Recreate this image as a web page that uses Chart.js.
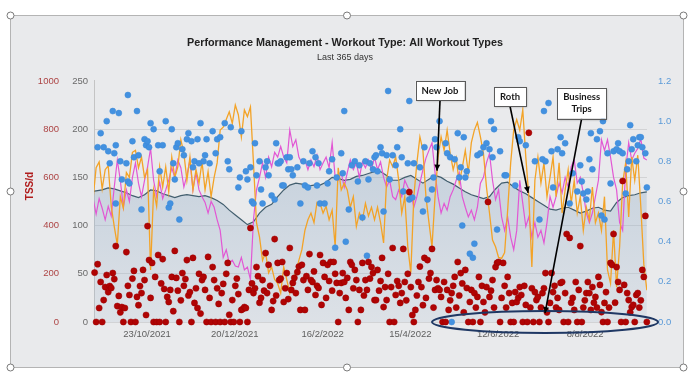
<!DOCTYPE html>
<html>
<head>
<meta charset="utf-8">
<script src="https://cdn.jsdelivr.net/npm/chart.js@4.4.1/dist/chart.umd.min.js"></script>
<style>
  html, body { margin: 0; padding: 0; background: #fff; }
  canvas { display: block; }
</style>
</head>
<body>
<canvas id="grafico" width="690" height="374"></canvas>
<script>
// x axis: day index (0 = mid Sept 2021), ticks at these days
var tickDays = [37.7, 95.7, 153.7, 211.7, 269.7, 327.2];
var tickLabels = ['23/10/2021', '20/12/2021', '16/2/2022', '15/4/2022', '12/6/2022', '8/8/2022'];
var firstDay = 2.6, lastDay = 368.1;

// fitness (grey area), one value every 4 days
var fitnessStep = 4;
var fitness = [135,136,137,139,138,136,134,131,129,132,
  137,136,133,131,129,131,132,131,130,131,
  129,126,122,116,111,106,101,104,113,119,
  122,130,137,142,144,143,141,142,142,145,
  150,149,147,148,151,152,154,156,156,152,
  147,147,150,152,148,144,148,152,150,146,
  143,139,135,132,130,128,130,138,144,145,
  140,136,133,129,125,121,117,116,118,119,
  116,113,115,118,119,116,115,124,129,131,
  132,134,135];

// orange and pink lines, one value every 2 days
var lineStep = 2;
var fatigue = [150,128,160,166,138,158,162,120,99,80,
  130,118,155,150,176,178,160,171,150,158,
  54,137,120,161,140,161,135,171,150,161,
  189,175,147,171,137,158,144,166,137,156,
  130,150,165,199,202,210,218,206,225,215,
  192,220,213,223,165,103,88,64,72,51,
  57,44,40,30,57,44,30,44,51,64,
  75,95,106,113,103,124,123,113,120,106,
  116,78,160,137,144,137,119,130,99,113,
  106,123,110,119,106,119,103,82,147,168,
  161,171,147,113,130,78,51,130,165,192,
  178,130,103,78,130,171,192,178,199,175,
  158,170,144,160,178,155,186,199,207,192,
  175,140,113,85,78,67,66,72,116,165,
  199,210,199,220,171,130,57,147,171,144,
  165,130,150,171,130,165,113,137,158,123,
  147,113,130,95,119,106,140,103,113,95,
  130,54,40,95,36,78,144,165,109,171,
  147,173,120,60,33];

var form = [115,128,112,128,118,106,120,110,140,168,
  147,119,137,125,150,165,144,130,147,161,
  180,147,130,145,128,137,147,160,150,168,
  160,140,152,168,137,155,137,130,124,113,
  125,119,106,95,67,75,61,64,58,57,
  67,54,57,44,106,137,150,165,150,171,
  161,176,171,182,171,165,199,182,189,171,
  165,168,158,168,161,173,158,165,171,160,
  186,150,147,155,140,155,168,158,165,150,
  166,160,168,158,171,158,166,150,140,147,
  130,127,137,130,147,140,134,119,130,144,
  158,170,178,186,155,130,113,123,116,130,
  137,147,155,130,119,109,116,106,119,144,
  150,165,175,147,127,137,109,95,109,88,
  75,95,147,123,99,109,88,103,88,95,
  82,103,130,119,130,144,134,150,140,161,
  168,144,150,134,113,103,113,130,147,189,
  178,189,171,150,137,103,95,158,186,168,
  175,180,190,170,168];

// TSS/d, one per day
var tssDaily = [null,null,null,205,0,240,58,166,0,91,
  145,195,124,149,141,203,178,315,66,108,
  40,62,0,58,290,150,112,0,180,212,
  0,104,70,149,120,216,174,29,398,257,
  100,245,0,187,0,278,0,160,261,137,
  0,104,83,133,187,45,295,183,130,0,
  90,203,150,178,257,110,124,0,266,79,
  140,58,200,35,174,187,133,0,270,100,
  0,228,174,0,140,75,0,120,158,0,
  200,245,30,0,91,0,150,180,116,0,
  50,54,62,58,0,133,390,160,120,140,
  228,190,80,100,174,130,286,120,237,150,
  50,87,344,110,245,174,180,249,83,140,
  203,95,307,133,162,183,120,207,230,50,
  237,174,50,190,133,282,174,166,210,112,
  150,141,278,71,245,187,100,237,170,249,
  130,249,200,162,0,120,162,203,166,100,
  183,50,249,237,140,216,174,0,133,50,
  245,110,174,133,249,180,228,203,91,91,
  216,130,170,266,62,145,91,200,0,145,
  307,0,112,170,150,79,120,303,166,90,
  200,539,145,29,0,50,110,166,230,145,
  70,266,100,257,180,203,303,60,133,174,
  140,133,104,0,166,0,133,50,90,120,
  150,187,60,249,110,203,160,40,216,141,
  0,83,133,0,120,60,104,187,0,150,
  83,40,145,498,104,130,174,60,228,245,
  249,0,100,245,150,60,187,120,0,79,
  0,124,83,100,145,112,0,150,71,0,
  785,60,140,0,124,91,104,0,60,120,
  140,203,40,0,79,203,124,150,60,100,
  50,162,166,0,120,365,0,349,80,100,
  50,166,0,133,315,0,60,90,120,166,
  120,50,145,80,104,60,187,154,41,0,
  79,124,0,60,245,237,365,80,228,166,
  133,0,585,154,0,120,91,40,62,71,
  0,112,120,60,90,216,187,440,0];

// intensity factor dots (right axis)
var ifDays = [5,7,9,11,12,13,15,16,17,17,19,20,21,24,25,25,26,28,29,31,
  32,34,36,37,38,39,40,42,45,46,48,50,52,53,54,55,56,57,58,59,
  61,62,64,65,67,68,69,71,72,73,75,76,77,79,81,83,84,86,89,91,
  92,93,98,99,100,103,104,106,107,108,109,110,112,113,114,116,117,118,120,122,
  123,124,125,126,127,128,130,131,132,133,134,137,139,141,142,144,145,147,149,150,
  151,152,155,157,158,160,162,163,166,167,168,169,171,173,175,177,178,180,182,183,
  184,185,187,188,189,190,192,193,194,196,197,198,200,202,203,205,206,207,210,211,
  211,213,214,218,220,221,223,226,227,228,229,231,235,236,238,239,241,243,244,245,
  246,247,248,249,251,253,254,256,258,260,262,264,265,266,267,269,271,274,275,281,
  283,284,288,294,297,299,300,301,303,305,306,309,311,312,314,317,319,322,324,325,
  326,328,329,330,331,332,335,337,338,339,340,342,344,346,348,349,350,352,354,355,
  356,357,358,359,361,362,363,364,365,367,368];
var ifValues = [.87,.94,.87,1.00,.85,.79,1.05,.84,.88,.59,1.04,.80,.71,.79,.70,1.13,.69,.90,.82,1.05,
  .83,.56,.91,.88,.90,.87,.99,.96,.88,.75,.88,1.00,.57,.59,.96,.79,.71,.87,.89,.51,
  .86,.83,.91,.94,.90,.77,.80,.91,.79,.99,.80,.83,.91,.79,.95,.84,.91,.92,.99,.80,
  .76,.97,.67,.72,.95,.75,.71,.77,.60,.59,.89,.73,.80,.66,.59,.77,.80,.73,.63,.61,
  .89,.79,.79,.80,.68,.68,.82,.76,.82,.76,.73,.77,.59,.80,.68,.67,.79,.85,.82,.68,
  .79,.59,.59,.69,.75,.81,.37,.72,.84,.74,1.05,.40,.56,.78,.80,.70,.78,.52,.80,.33,
  .71,.79,.76,.82,.83,.75,.87,.84,.55,.83,1.15,.71,.83,.78,.87,.96,.82,.65,.79,1.10,
  .61,.62,.79,.77,.55,.87,.61,.66,.72,.91,.87,1.00,.89,.84,.82,0,.81,.94,.72,.77,
  .48,.92,.72,.75,.34,.32,.39,.83,.84,.87,.89,.86,1.00,.82,.96,.46,.85,.73,.73,.68,
  .92,.90,.88,.80,.51,.81,1.05,.80,1.09,.85,.67,.86,.92,.84,.89,.59,.74,.65,.78,.70,
  .64,.61,.65,.81,.94,.76,.91,.95,.53,1.00,.51,.84,.69,.85,.86,.89,.85,.84,.64,.76,
  .80,.98,.86,.91,.80,.88,.92,.92,.87,.84,.67];

// callouts (day, value on the 0-250 axis)
var notes = [
  { lines: ['New Job'], at: [231.3, 240], tip: [229.3, 157] },
  { lines: ['Roth'], at: [277.6, 233.4], tip: [289.5, 134] },
  { lines: ['Business', 'Trips'], at: [324.9, 227], tip: [300.7, 9.3] }
];
var tripsRing = { day: 300.7, value: 0, halfDays: 74.7, halfValue: 11.4 };

function stepped(values, step) {
  return values.map(function (v, i) { return { x: i * step, y: v }; });
}
var tssPoints = [];
tssDaily.forEach(function (v, i) { if (v !== null) tssPoints.push({ x: i, y: v }); });
var ifPoints = ifDays.map(function (d, i) { return { x: d, y: ifValues[i] }; });

Chart.defaults.font.family = "'Liberation Sans', Arial, sans-serif";

// marco gris con los tiradores de seleccion
var marco = {
  id: 'marco',
  beforeDraw: function (chart) {
    var c = chart.ctx;
    c.save();
    c.fillStyle = '#ffffff';
    c.fillRect(0, 0, chart.width, chart.height);
    c.fillStyle = '#e9eaec';
    c.fillRect(10, 15, 673, 352);
    c.strokeStyle = '#b4b4b4';
    c.lineWidth = 1;
    c.strokeRect(10.5, 15.5, 673, 352);
    c.restore();
  },
  afterDraw: function (chart) {
    var c = chart.ctx;
    c.save();
    // TSS/d title
    var s = chart.scales.yT;
    c.translate(s.left + 30, 186);
    c.rotate(-Math.PI / 2);
    c.fillStyle = '#b01c1c';
    c.font = "bold 10px 'Liberation Sans', Arial";
    c.textAlign = 'center';
    c.textBaseline = 'middle';
    c.fillText('TSS/d', 0, 0);
    c.restore();

    c.save();
    var xs = [10.5, 347, 683.5], ys = [15.5, 191.5, 367.5];
    xs.forEach(function (x) {
      ys.forEach(function (y) {
        if (x === 347 && y === 191.5) return;
        c.beginPath();
        c.arc(x, y, 3.5, 0, Math.PI * 2);
        c.fillStyle = '#ffffff';
        c.fill();
        c.strokeStyle = '#7a7a7a';
        c.lineWidth = 1;
        c.stroke();
      });
    });
    c.restore();
  }
};

// notas con flecha y elipse
var notas = {
  id: 'notas',
  afterDatasetsDraw: function (chart) {
    var c = chart.ctx, sx = chart.scales.x, sy = chart.scales.y;
    c.save();
    // ellipse
    var ex = sx.getPixelForValue(tripsRing.day), ey = sy.getPixelForValue(tripsRing.value);
    var rx = sx.getPixelForValue(tripsRing.day + tripsRing.halfDays) - ex;
    var ry = ey - sy.getPixelForValue(tripsRing.value + tripsRing.halfValue);
    c.beginPath();
    c.ellipse(ex, ey, rx, ry, 0, 0, Math.PI * 2);
    c.strokeStyle = '#1f3864';
    c.lineWidth = 2;
    c.stroke();

    c.font = "bold 9.5px Lato, 'Liberation Sans', sans-serif";
    notes.forEach(function (n) {
      var cx = sx.getPixelForValue(n.at[0]), cy = sy.getPixelForValue(n.at[1]);
      var w = 0;
      n.lines.forEach(function (t) { w = Math.max(w, c.measureText(t).width); });
      w += 12;
      var h = n.lines.length * 12 + 7;
      var bx = cx - w / 2, by = cy - h / 2;
      // arrow
      var tx = sx.getPixelForValue(n.tip[0]), ty = sy.getPixelForValue(n.tip[1]);
      var fx = cx, fy = by + h;
      c.strokeStyle = '#000';
      c.lineWidth = 1.6;
      c.beginPath();
      c.moveTo(fx, fy);
      c.lineTo(tx, ty);
      c.stroke();
      var a = Math.atan2(ty - fy, tx - fx);
      c.beginPath();
      c.moveTo(tx, ty);
      c.lineTo(tx - 6 * Math.cos(a) + 3 * Math.sin(a), ty - 6 * Math.sin(a) - 3 * Math.cos(a));
      c.lineTo(tx - 6 * Math.cos(a) - 3 * Math.sin(a), ty - 6 * Math.sin(a) + 3 * Math.cos(a));
      c.closePath();
      c.fillStyle = '#000';
      c.fill();
      // box
      c.save();
      c.shadowColor = 'rgba(0,0,0,0.3)';
      c.shadowBlur = 2;
      c.shadowOffsetX = 1;
      c.shadowOffsetY = 1;
      c.fillStyle = '#ffffff';
      c.fillRect(bx, by, w, h);
      c.restore();
      c.strokeStyle = '#5a5a5a';
      c.lineWidth = 1;
      c.strokeRect(Math.round(bx) + 0.5, Math.round(by) + 0.5, Math.round(w), Math.round(h));
      c.fillStyle = '#1a1a1a';
      c.textAlign = 'center';
      c.textBaseline = 'middle';
      n.lines.forEach(function (t, i) {
        c.fillText(t, cx, by + 3.5 + 6 + i * 12);
      });
    });
    c.restore();
  }
};

var grafico = new Chart(document.getElementById('grafico'), {
  type: 'line',
  data: {
    datasets: [
      {
        label: 'TSS/d', type: 'scatter', data: tssPoints, yAxisID: 'yT',
        backgroundColor: '#b00404', borderColor: '#9a0000', borderWidth: 0.5,
        pointRadius: 3.1, clip: false, order: 1
      },
      {
        label: 'IF', type: 'scatter', data: ifPoints, yAxisID: 'y2',
        backgroundColor: '#4391e0', borderColor: '#3a88d6', borderWidth: 0.5,
        pointRadius: 3, clip: false, order: 2
      },
      {
        label: 'Fatigue', data: stepped(fatigue, lineStep), yAxisID: 'y',
        borderColor: '#f3a327', borderWidth: 1.3, pointRadius: 0, tension: 0, order: 3
      },
      {
        label: 'Form', data: stepped(form, lineStep), yAxisID: 'y',
        borderColor: '#e257d4', borderWidth: 1.2, pointRadius: 0, tension: 0, order: 4
      },
      {
        label: 'Fitness', data: stepped(fitness, fitnessStep), yAxisID: 'y',
        borderColor: '#425e6e', borderWidth: 1.2, pointRadius: 0, tension: 0, order: 5,
        fill: 'origin',
        backgroundColor: function (ctx) {
          var area = ctx.chart.chartArea;
          if (!area) return 'rgba(150,175,200,0.35)';
          var g = ctx.chart.ctx.createLinearGradient(0, area.top, 0, area.bottom);
          g.addColorStop(0, 'rgba(150,175,200,0.55)');
          g.addColorStop(1, 'rgba(150,175,200,0.15)');
          return g;
        }
      }
    ]
  },
  options: {
    responsive: false,
    animation: false,
    layout: { padding: 0 },
    plugins: {
      legend: { display: false },
      tooltip: { enabled: false },
      title: {
        display: true, text: 'Performance Management - Workout Type: All Workout Types',
        color: '#222', font: { size: 10.8, weight: 'bold' }, padding: { top: 37, bottom: 2 }
      },
      subtitle: {
        display: true, text: 'Last 365 days', color: '#333',
        font: { size: 9 }, padding: { top: 0, bottom: 18.2 }
      }
    },
    scales: {
      x: {
        type: 'linear', min: firstDay, max: lastDay,
        grid: { display: false, drawTicks: false }, border: { display: false },
        afterBuildTicks: function (s) { s.ticks = tickDays.map(function (d) { return { value: d }; }); },
        ticks: {
          autoSkip: false, maxRotation: 0, padding: 7, color: '#5e5e5e', font: { size: 9.5 },
          callback: function (v, i) { return tickLabels[i]; }
        },
        afterFit: function (s) { s.height = 52; }
      },
      y: {
        position: 'left', min: 0, max: 250, weight: 0,
        ticks: { stepSize: 50, padding: 6, color: '#6a6a6a', font: { size: 9.5 } },
        grid: {
          drawTicks: false,
          color: function (c) { return c.tick.value === 250 ? 'rgba(0,0,0,0)' : '#d2d3d5'; }
        },
        border: { display: true, color: '#c4c4c4' },
        afterFit: function (s) { s.width = 25; }
      },
      yT: {
        position: 'left', min: 0, max: 1000, weight: 10,
        ticks: {
          stepSize: 200, padding: 10, color: '#ad4444', font: { size: 9.5 },
          callback: function (v) { return String(v); }
        },
        grid: { display: false, drawTicks: false }, border: { display: false },
        afterFit: function (s) { s.width = 69; }
      },
      y2: {
        position: 'right', min: 0, max: 1.2,
        ticks: {
          stepSize: 0.2, padding: 11, color: '#5a9ad8', font: { size: 9.5 },
          callback: function (v) { return v.toFixed(1); }
        },
        grid: { display: false, drawTicks: false }, border: { display: false },
        afterFit: function (s) { s.width = 43; }
      }
    }
  },
  plugins: [marco, notas]
});
</script>
</body>
</html>
